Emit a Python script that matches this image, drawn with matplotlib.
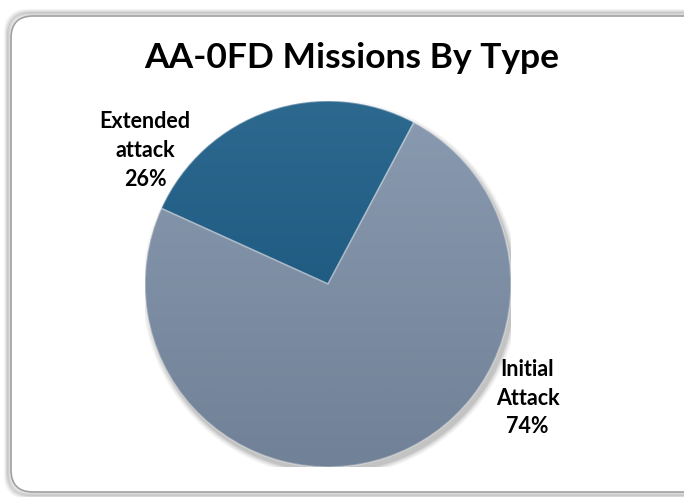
import matplotlib
matplotlib.use("Agg")
import matplotlib.pyplot as plt
import numpy as np
from matplotlib.patches import FancyBboxPatch, Circle

categories = ["Extended\nattack", "Initial\nAttack"]
values = [26, 74]
colors = ["#165883", "#7d90a8"]
title = "AA-0FD Missions By Type"

plt.rcParams['font.family'] = ['Lato', 'DejaVu Sans']

fig = plt.figure(figsize=(6.84, 4.97), dpi=100)
fig.patch.set_facecolor("white")

# background frame with shadow
bg = fig.add_axes([0, 0, 1, 1])
bg.set_xlim(0, 684); bg.set_ylim(497, 0); bg.axis("off")
for i, a in enumerate([0.05, 0.07, 0.09, 0.12]):
    off = 4 - i
    bg.add_patch(FancyBboxPatch((10 - off, 15 - off), 700, 478 + 2*off,
                                boxstyle="round,pad=0,rounding_size=22",
                                facecolor="none", edgecolor=(0.3, 0.3, 0.3, a), lw=3))
bg.add_patch(FancyBboxPatch((11, 16), 700, 476,
                            boxstyle="round,pad=0,rounding_size=22",
                            facecolor="white", edgecolor="#a0a0a0", lw=1.2))

bg.text(352, 58, title, ha="center", va="center", fontsize=25.5, fontweight="bold", color="black")

cx, cy, r = 328, 284, 183
ax = fig.add_axes([(cx - r) / 684, 1 - (cy + r) / 497, 2 * r / 684, 2 * r / 497])

# drop shadow
for k, a in enumerate([0.04, 0.05, 0.07, 0.09]):
    ax.add_patch(Circle((0.015, -0.025), 1.0 + 0.03 - k * 0.008, color="black", alpha=a, lw=0, zorder=0))

wedges, _ = ax.pie(values, colors=colors, startangle=62, counterclock=True, radius=1,
                   wedgeprops=dict(edgecolor=(1, 1, 1, 0.35), linewidth=1.2))
for w in wedges:
    w.set_zorder(2)
ax.set_xlim(-1, 1); ax.set_ylim(-1, 1); ax.axis("off")

# subtle shading gradient clipped to each wedge (lighter top, darker bottom)
yy, xx = np.mgrid[-1:1:300j, -1:1:300j]
grad = np.clip(0.5 + 0.5 * yy, 0, 1)
for w in wedges:
    im = ax.imshow(grad, extent=(-1, 1, -1, 1), origin="lower", cmap="gray",
                   alpha=0.10, vmin=0, vmax=1, zorder=3)
    im.set_clip_path(w)
ax.set_xlim(-1, 1); ax.set_ylim(-1, 1)

pct = [f"{v}%" for v in values]
label_pos = [(-1.0, 0.73), (1.09, -0.623)]
for (lx, ly), c, p in zip(label_pos, categories, pct):
    ax.text(lx, ly, f"{c}\n{p}", ha="center", va="center", fontsize=15.5,
            fontweight="bold", color="black", linespacing=1.45, clip_on=False, zorder=5)

fig.savefig("out.png", dpi=100)
